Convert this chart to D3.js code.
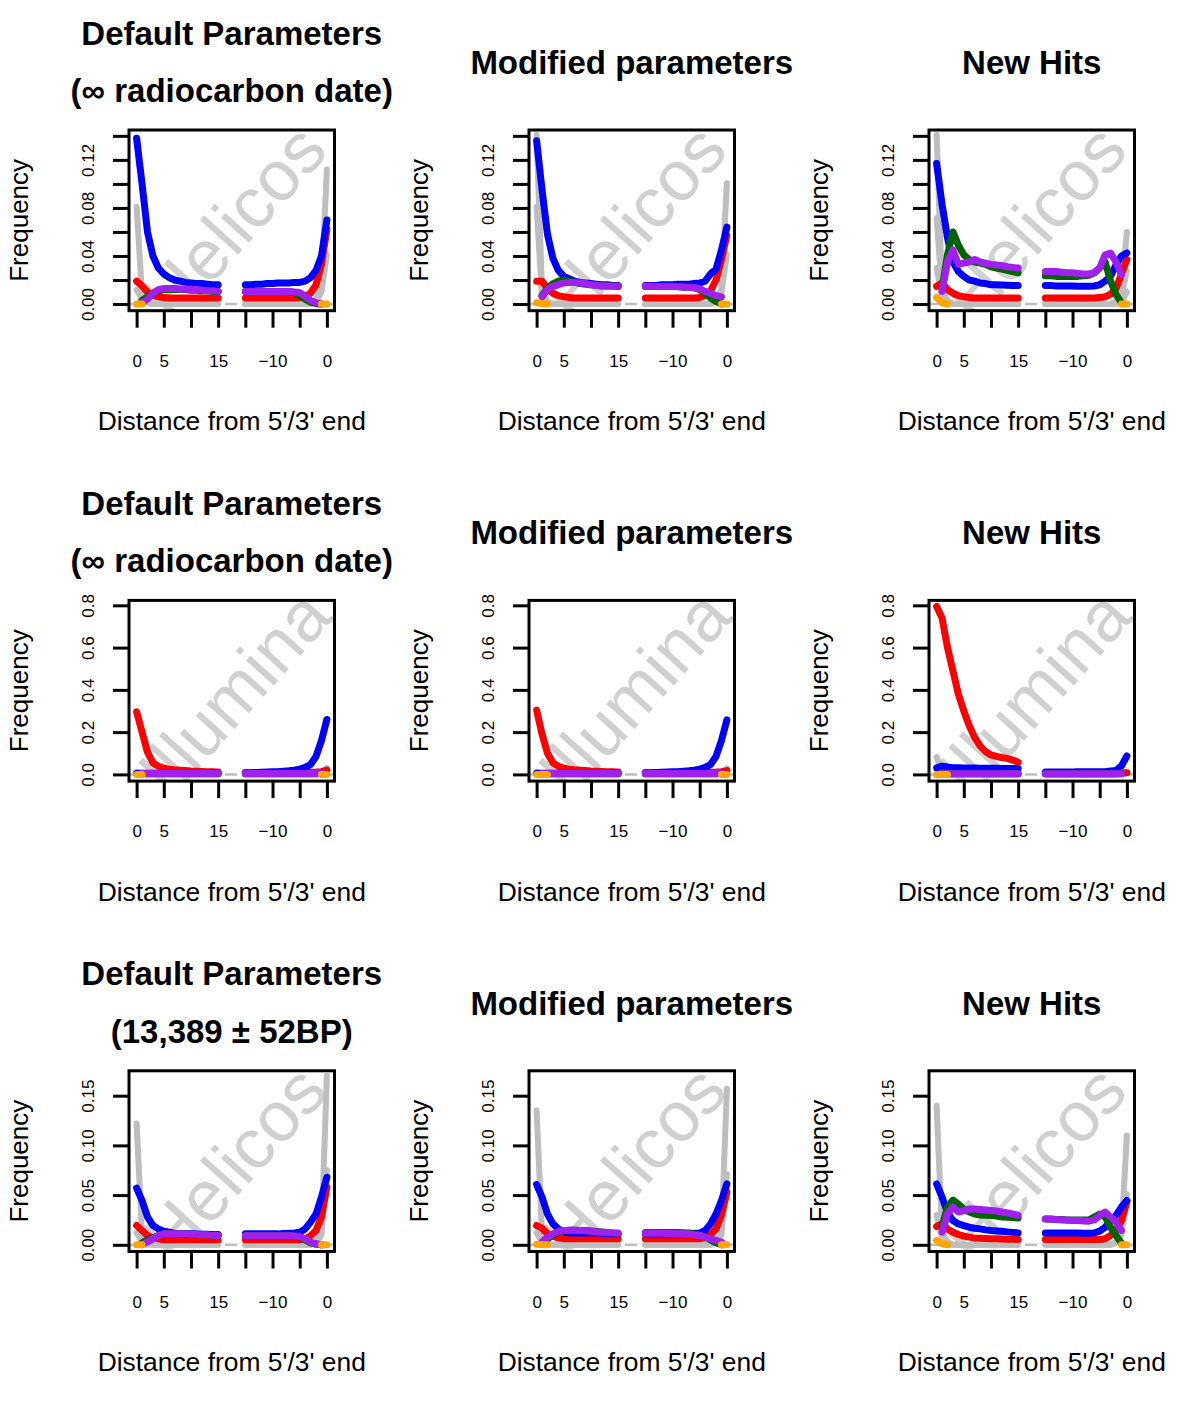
<!DOCTYPE html>
<html><head><meta charset="utf-8">
<script src="https://cdn.jsdelivr.net/npm/d3@7"></script>
<style>
body{margin:0;background:#fff}
text{font-family:"Liberation Sans", Arial, Helvetica, sans-serif}
</style>
</head><body>
<svg id="c" width="1200" height="1413"></svg>
<script>
const _ = null;
// x positions: first 16 values = distance from 5' end (0..15), last 16 = distance from 3' end (-15..0)
const pos5 = [0,1,2,3,4,5,6,7,8,9,10,11,12,13,14,15];
const pos3 = [-15,-14,-13,-12,-11,-10,-9,-8,-7,-6,-5,-4,-3,-2,-1,0];
const xTicks = [0,5,10,15,20,25,30,35];
const xTickLabels = ["0","5","","15","","\u221210","","0"];
const zeroLine = 0;

const yMax = [0.1393, 0.7917, 0.1683];
const yTicksR1 = [0,0.02,0.04,0.06,0.08,0.10,0.12,0.14];
const yLabelsR1 = ["0.00","","0.04","","0.08","","0.12",""];
const yTicksR2 = [0,0.2,0.4,0.6,0.8];
const yLabelsR2 = ["0.0","0.2","0.4","0.6","0.8"];
const yTicksR3 = [0,0.05,0.10,0.15];
const yLabelsR3 = ["0.00","0.05","0.10","0.15"];

const titlesDefault1 = ["Default Parameters","(\u221e radiocarbon date)"];
const titlesDefault3 = ["Default Parameters","(13,389 \u00b1 52BP)"];
const titlesModified = ["Modified parameters"];
const titlesNew = ["New Hits"];
const watermarks = ["Helicos","Illumina","Helicos"];
const xLabel = "Distance from 5'/3' end";
const yLabel = "Frequency";

// ---------- Row 1 (Helicos, infinite date) ----------
const p11_blue = [0.138,0.100,0.060,0.040,0.030,0.025,0.022,0.020,0.019,0.018,0.0175,0.017,0.017,0.0165,0.016,0.016,
  0.016,0.016,0.0165,0.0165,0.017,0.017,0.0175,0.0175,0.0175,0.018,0.018,0.019,0.022,0.028,0.040,0.070];
const p11_red = [0.019,0.015,0.010,0.007,0.006,0.0055,0.005,0.005,0.005,0.005,0.005,0.005,0.005,0.005,0.005,0.005,
  0.005,0.005,0.005,0.005,0.005,0.005,0.005,0.005,0.005,0.005,0.0055,0.006,0.009,0.016,0.033,0.062];
const p11_green = [_,0.003,0.006,0.009,0.011,0.012,0.012,0.012,0.012,0.012,0.0115,0.0115,0.011,0.011,0.0105,0.0105,
  0.0105,0.0105,0.0105,0.0105,0.0105,0.0105,0.0105,0.0105,0.0105,0.0095,0.007,0.004,0.0015,0.0003,0,_];
const p11_purple = [_,0.001,0.004,0.009,0.012,0.013,0.013,0.013,0.0125,0.0125,0.012,0.012,0.0115,0.011,0.011,0.0105,
  0.0105,0.0105,0.0105,0.0105,0.0105,0.0105,0.0105,0.0105,0.0105,0.010,0.0095,0.0065,0.003,0.001,0,_];
const p11_orange = [0,0,_,_,_,_,_,_,_,_,_,_,_,_,_,_, _,_,_,_,_,_,_,_,_,_,_,_,_,_,0,0];
const p11_gray1 = [0.081,0.008,0.002,0,0,0,0,0,0,0,0,0,0,0,0,0, 0,0,0,0,0,0,0,0,0,0,0,0,0,0.003,0.015,0.112];
const p11_gray2 = [0.012,0.004,0.001,0,0,0,0,0,0,0,0,0,0,0,0,0, 0,0,0,0,0,0,0,0,0,0,0,0,0,0.002,0.010,0.041];

const p12_blue = [0.136,0.095,0.058,0.038,0.028,0.023,0.021,0.019,0.018,0.0175,0.017,0.0165,0.016,0.016,0.0155,0.0155,
  0.0155,0.0155,0.0155,0.016,0.016,0.016,0.0165,0.0165,0.0165,0.017,0.0175,0.019,0.025,0.029,0.045,0.064];
const p12_red = [0.019,0.019,0.013,0.009,0.007,0.006,0.0055,0.005,0.005,0.005,0.005,0.005,0.005,0.005,0.005,0.005,
  0.005,0.005,0.005,0.005,0.005,0.005,0.005,0.005,0.005,0.005,0.0055,0.007,0.011,0.020,0.037,0.057];
const p12_green = [_,0.007,0.013,0.017,0.019,0.020,0.019,0.018,0.017,0.0165,0.016,0.0155,0.015,0.015,0.015,0.0145,
  0.0145,0.0145,0.0145,0.0145,0.0145,0.0145,0.0145,0.014,0.014,0.0135,0.012,0.009,0.005,0.002,0,_];
const p12_purple = [_,0.006,0.012,0.0147,0.016,0.0175,0.018,0.018,0.0175,0.017,0.016,0.0155,0.015,0.015,0.0148,0.0147,
  0.0147,0.0147,0.0146,0.0145,0.0145,0.0145,0.0144,0.0142,0.014,0.0135,0.0127,0.0105,0.009,0.007,0.006,_];
const p12_orange = [0.001,0.0005,0,_,_,_,_,_,_,_,_,_,_,_,_,_, _,_,_,_,_,_,_,_,_,_,_,_,_,_,0,0];
const p12_gray1 = [0.141,0.010,0.002,0,0,0,0,0,0,0,0,0,0,0,0,0, 0,0,0,0,0,0,0,0,0,0,0,0,0,0.003,0.012,0.1006];
const p12_gray2 = [0.081,0.006,0.001,0,0,0,0,0,0,0,0,0,0,0,0,0, 0,0,0,0,0,0,0,0,0,0,0,0,0,0.002,0.010,0.041];

const p13_blue = [0.117,0.083,0.055,0.035,0.027,0.023,0.020,0.019,0.0175,0.017,0.016,0.016,0.0158,0.0157,0.0155,0.0155,
  0.0155,0.0155,0.015,0.015,0.015,0.015,0.0148,0.0147,0.0147,0.015,0.016,0.019,0.023,0.0327,0.040,0.0425];
const p13_red = [0.0147,0.0175,0.012,0.009,0.007,0.006,0.0055,0.005,0.005,0.005,0.005,0.005,0.005,0.005,0.005,0.005,
  0.005,0.005,0.005,0.005,0.005,0.005,0.005,0.005,0.005,0.005,0.0055,0.006,0.008,0.013,0.025,0.037];
const p13_green = [_,0.013,0.041,0.060,0.049,0.041,0.037,0.035,0.034,0.033,0.031,0.030,0.029,0.028,0.027,0.026,
  0.0235,0.0235,0.023,0.023,0.023,0.023,0.023,0.0235,0.024,0.026,0.030,0.035,0.019,0.008,0.001,_];
const p13_purple = [_,0.0105,0.035,0.045,0.033,0.034,0.035,0.037,0.035,0.034,0.033,0.0325,0.032,0.031,0.0305,0.030,
  0.027,0.027,0.027,0.0265,0.026,0.026,0.0255,0.025,0.025,0.026,0.030,0.041,0.0424,0.035,0.0244,_];
const p13_orange = [0.0055,0.001,0,_,_,_,_,_,_,_,_,_,_,_,_,_, _,_,_,_,_,_,_,_,_,_,_,_,_,_,0,0];
const p13_gray1 = [0.141,0.012,0.003,0,0,0,0,0,0,0,0,0,0,0,0,0, 0,0,0,0,0,0,0,0,0,0,0,0,0,0.002,0.010,0.060];
const p13_gray2 = [0.0715,0.010,0.002,0,0,0,0,0,0,0,0,0,0,0,0,0, 0,0,0,0,0,0,0,0,0,0,0,0,0,0.001,0.008,0.027];
const p13_gray3 = [0.030,0.006,0.001,0,0,0,0,0,0,0,0,0,0,0,0,0, 0,0,0,0,0,0,0,0,0,0,0,0,0,0,0.002,0.010];

// ---------- Row 2 (Illumina, infinite date) ----------
const p21_red = [0.296,0.200,0.105,0.055,0.038,0.030,0.025,0.022,0.020,0.018,0.016,0.015,0.014,0.013,0.012,0.011,
  0.008,0.008,0.008,0.008,0.008,0.008,0.008,0.008,0.008,0.008,0.009,0.009,0.010,0.011,0.013,0.020];
const p21_blue = [0.005,0.005,0.005,0.005,0.005,0.005,0.005,0.005,0.005,0.005,0.005,0.005,0.005,0.005,0.005,0.005,
  0.008,0.008,0.009,0.010,0.011,0.012,0.013,0.015,0.017,0.020,0.025,0.033,0.047,0.085,0.160,0.260];
const p21_green = [_,0.003,0.003,0.003,0.003,0.003,0.003,0.003,0.003,0.003,0.003,0.003,0.003,0.003,0.003,0.003,
  0.003,0.003,0.003,0.003,0.003,0.003,0.003,0.003,0.003,0.003,0.003,0.003,0.003,0.003,0.003,_];
const p21_purple = [_,0.004,0.004,0.004,0.004,0.004,0.004,0.004,0.004,0.004,0.004,0.004,0.004,0.004,0.004,0.004,
  0.004,0.004,0.004,0.004,0.004,0.004,0.004,0.004,0.004,0.004,0.004,0.004,0.004,0.004,0.004,_];
const p21_orange = [0,0,_,_,_,_,_,_,_,_,_,_,_,_,_,_, _,_,_,_,_,_,_,_,_,_,_,_,_,_,0,0];
const p21_gray1 = [0.010,0.002,0,0,0,0,0,0,0,0,0,0,0,0,0,0, 0,0,0,0,0,0,0,0,0,0,0,0,0,0,0.006,0.030];

const p22_red = [0.304,0.190,0.100,0.055,0.038,0.030,0.025,0.022,0.020,0.018,0.016,0.015,0.014,0.013,0.012,0.011,
  0.008,0.008,0.008,0.008,0.008,0.008,0.008,0.008,0.008,0.008,0.009,0.009,0.010,0.011,0.013,0.018];
const p22_blue = [0.005,0.005,0.005,0.005,0.005,0.005,0.005,0.005,0.005,0.005,0.005,0.005,0.005,0.005,0.005,0.005,
  0.008,0.008,0.009,0.010,0.011,0.012,0.013,0.015,0.017,0.020,0.025,0.033,0.047,0.085,0.160,0.258];
const p22_green = [_,0.003,0.003,0.003,0.003,0.003,0.003,0.003,0.003,0.003,0.003,0.003,0.003,0.003,0.003,0.003,
  0.003,0.003,0.003,0.003,0.003,0.003,0.003,0.003,0.003,0.003,0.003,0.003,0.003,0.003,0.003,_];
const p22_purple = [_,0.004,0.004,0.004,0.004,0.004,0.004,0.004,0.004,0.004,0.004,0.004,0.004,0.004,0.004,0.004,
  0.004,0.004,0.004,0.004,0.004,0.004,0.004,0.004,0.004,0.004,0.004,0.004,0.004,0.004,0.004,_];
const p22_orange = [0,0,0,_,_,_,_,_,_,_,_,_,_,_,_,_, _,_,_,_,_,_,_,_,_,_,_,_,_,_,0,0];
const p22_gray1 = [0.012,0.002,0,0,0,0,0,0,0,0,0,0,0,0,0,0, 0,0,0,0,0,0,0,0,0,0,0,0,0,0,0.006,0.028];

const p23_red = [0.795,0.740,0.600,0.490,0.380,0.300,0.230,0.175,0.135,0.108,0.092,0.085,0.080,0.076,0.068,0.058,
  0.003,0.003,0.003,0.003,0.003,0.003,0.003,0.003,0.003,0.003,0.003,0.003,0.003,0.004,0.005,0.008];
const p23_blue = [0.031,0.039,0.035,0.032,0.031,0.030,0.030,0.030,0.029,0.029,0.029,0.029,0.028,0.028,0.028,0.028,
  0.011,0.011,0.011,0.011,0.011,0.011,0.012,0.012,0.012,0.012,0.013,0.013,0.016,0.019,0.040,0.087];
const p23_green = [_,0.003,0.003,0.003,0.003,0.003,0.003,0.003,0.003,0.003,0.003,0.003,0.003,0.003,0.003,0.003,
  0.003,0.003,0.003,0.003,0.003,0.003,0.003,0.003,0.003,0.003,0.003,0.003,0.003,0.003,0.003,_];
const p23_purple = [_,0.003,0.003,0.003,0.003,0.003,0.003,0.003,0.003,0.003,0.003,0.003,0.003,0.003,0.003,0.003,
  0.003,0.003,0.003,0.003,0.003,0.003,0.003,0.003,0.003,0.003,0.003,0.003,0.003,0.003,0.003,_];
const p23_orange = [0,0,0,_,_,_,_,_,_,_,_,_,_,_,_,_, _,_,_,_,_,_,_,_,_,_,_,_,_,_,_,_];
const p23_gray1 = [0.082,0.010,0.002,0,0,0,0,0,0,0,0,0,0,0,0,0, 0,0,0,0,0,0,0,0,0,0,0,0,0,0,0.004,0.012];

// ---------- Row 3 (Helicos, 13,389 BP) ----------
const p31_blue = [0.057,0.0445,0.028,0.0194,0.016,0.0137,0.0127,0.0117,0.0115,0.011,0.011,0.011,0.0107,0.0105,0.0104,0.0104,
  0.011,0.011,0.011,0.011,0.011,0.011,0.011,0.0115,0.0117,0.012,0.0127,0.016,0.0228,0.031,0.048,0.068];
const p31_red = [0.0194,0.0144,0.0094,0.007,0.006,0.005,0.005,0.005,0.005,0.005,0.005,0.005,0.005,0.005,0.005,0.005,
  0.005,0.005,0.005,0.005,0.005,0.005,0.005,0.005,0.005,0.005,0.005,0.006,0.009,0.0144,0.028,0.058];
const p31_green = [_,0.002,0.005,0.007,0.0095,0.011,0.011,0.011,0.011,0.011,0.0105,0.0105,0.010,0.010,0.0095,0.0095,
  0.009,0.009,0.009,0.009,0.009,0.009,0.009,0.009,0.009,0.0088,0.008,0.005,0.002,0.0005,0,_];
const p31_purple = [_,0.0003,0.003,0.006,0.0094,0.011,0.011,0.011,0.011,0.011,0.0105,0.0105,0.010,0.010,0.0095,0.0094,
  0.009,0.009,0.009,0.009,0.009,0.009,0.009,0.009,0.009,0.0088,0.0084,0.006,0.0027,0.001,0,_];
const p31_orange = [0,0,_,_,_,_,_,_,_,_,_,_,_,_,_,_, _,_,_,_,_,_,_,_,_,_,_,_,_,_,0,0];
const p31_gray1 = [0.122,0.010,0.002,0,0,0,0,0,0,0,0,0,0,0,0,0, 0,0,0,0,0,0,0,0,0,0,0,0,0,0.003,0.012,0.170];
const p31_gray2 = [0.012,0.003,0,0,0,0,0,0,0,0,0,0,0,0,0,0, 0,0,0,0,0,0,0,0,0,0,0,0,0,0.002,0.010,0.075];

const p32_blue = [0.0606,0.048,0.031,0.021,0.016,0.0127,0.012,0.012,0.012,0.012,0.012,0.012,0.0115,0.0115,0.011,0.011,
  0.011,0.011,0.011,0.011,0.011,0.011,0.011,0.0113,0.0115,0.0117,0.0117,0.0144,0.021,0.031,0.0445,0.0613];
const p32_red = [0.0194,0.0167,0.011,0.0084,0.007,0.006,0.006,0.006,0.006,0.006,0.006,0.006,0.006,0.006,0.006,0.006,
  0.006,0.006,0.006,0.006,0.006,0.006,0.006,0.006,0.006,0.006,0.006,0.007,0.010,0.016,0.030,0.053];
const p32_green = [_,0.002,0.006,0.010,0.0125,0.014,0.0147,0.0147,0.0145,0.0143,0.014,0.0135,0.013,0.0125,0.012,0.0117,
  0.0125,0.0125,0.0125,0.0125,0.0125,0.0125,0.0125,0.0122,0.012,0.011,0.010,0.008,0.005,0.002,0,_];
const p32_purple = [_,0.0027,0.0077,0.011,0.0134,0.0144,0.0147,0.0147,0.0145,0.0142,0.0137,0.013,0.0127,0.0123,0.012,0.0117,
  0.0117,0.0117,0.0116,0.0115,0.0114,0.0113,0.0112,0.0111,0.011,0.010,0.0094,0.0077,0.006,0.0044,0.0027,_];
const p32_orange = [0.0005,0,0,_,_,_,_,_,_,_,_,_,_,_,_,_, _,_,_,_,_,_,_,_,_,_,_,_,_,_,0,0];
const p32_gray1 = [0.135,0.010,0.002,0,0,0,0,0,0,0,0,0,0,0,0,0, 0,0,0,0,0,0,0,0,0,0,0,0,0,0.003,0.012,0.157];
const p32_gray2 = [0.012,0.003,0,0,0,0,0,0,0,0,0,0,0,0,0,0, 0,0,0,0,0,0,0,0,0,0,0,0,0,0.002,0.010,0.071];

const p33_blue = [0.0613,0.048,0.0328,0.0244,0.021,0.0194,0.0177,0.0167,0.016,0.015,0.0144,0.014,0.0137,0.013,0.0125,0.012,
  0.012,0.012,0.012,0.012,0.012,0.012,0.0118,0.0117,0.0117,0.012,0.0137,0.0177,0.0244,0.0295,0.038,0.0445];
const p33_red = [0.0184,0.021,0.016,0.0127,0.0104,0.0087,0.0077,0.0067,0.0065,0.0063,0.0061,0.006,0.0058,0.0056,0.0055,0.0054,
  0.0054,0.0054,0.0054,0.0054,0.0054,0.0054,0.0054,0.0054,0.0054,0.0054,0.0054,0.006,0.0094,0.0144,0.0244,0.043];
const p33_green = [_,0.018,0.038,0.045,0.041,0.036,0.033,0.031,0.030,0.0297,0.0295,0.029,0.028,0.0278,0.0275,0.027,
  0.026,0.026,0.0255,0.0255,0.025,0.025,0.025,0.025,0.025,0.028,0.031,0.028,0.0177,0.0094,0.0017,_];
const p33_purple = [_,0.0127,0.031,0.038,0.033,0.0345,0.036,0.036,0.0355,0.035,0.0345,0.034,0.033,0.032,0.031,0.0295,
  0.026,0.0258,0.0255,0.025,0.025,0.0245,0.0244,0.024,0.0238,0.025,0.0295,0.033,0.028,0.023,0.0144,_];
const p33_orange = [0.0044,0.001,0,_,_,_,_,_,_,_,_,_,_,_,_,_, _,_,_,_,_,_,_,_,_,_,_,_,_,_,0,0];
const p33_gray1 = [0.140,0.012,0.003,0,0,0,0,0,0,0,0,0,0,0,0,0, 0,0,0,0,0,0,0,0,0,0,0,0,0,0.003,0.012,0.110];
const p33_gray2 = [0.030,0.006,0.001,0,0,0,0,0,0,0,0,0,0,0,0,0, 0,0,0,0,0,0,0,0,0,0,0,0,0,0.002,0.010,0.051];

const colors = {gray:"#bebebe", red:"#ff0000", blue:"#0000ff", green:"#006400", purple:"#a020f0", orange:"#ffa500"};

const panels = [
  {row:0,col:0,title:titlesDefault1,gray:[p11_gray1,p11_gray2],red:p11_red,blue:p11_blue,green:p11_green,purple:p11_purple,orange:p11_orange},
  {row:0,col:1,title:titlesModified,gray:[p12_gray1,p12_gray2],red:p12_red,blue:p12_blue,green:p12_green,purple:p12_purple,orange:p12_orange},
  {row:0,col:2,title:titlesNew,gray:[p13_gray1,p13_gray2,p13_gray3],red:p13_red,blue:p13_blue,green:p13_green,purple:p13_purple,orange:p13_orange},
  {row:1,col:0,title:titlesDefault1,gray:[p21_gray1],red:p21_red,blue:p21_blue,green:p21_green,purple:p21_purple,orange:p21_orange},
  {row:1,col:1,title:titlesModified,gray:[p22_gray1],red:p22_red,blue:p22_blue,green:p22_green,purple:p22_purple,orange:p22_orange},
  {row:1,col:2,title:titlesNew,gray:[p23_gray1],red:p23_red,blue:p23_blue,green:p23_green,purple:p23_purple,orange:p23_orange},
  {row:2,col:0,title:titlesDefault3,gray:[p31_gray1,p31_gray2],red:p31_red,blue:p31_blue,green:p31_green,purple:p31_purple,orange:p31_orange},
  {row:2,col:1,title:titlesModified,gray:[p32_gray1,p32_gray2],red:p32_red,blue:p32_blue,green:p32_green,purple:p32_purple,orange:p32_orange},
  {row:2,col:2,title:titlesNew,gray:[p33_gray1,p33_gray2],red:p33_red,blue:p33_blue,green:p33_green,purple:p33_purple,orange:p33_orange}
];
const yTicksByRow = [yTicksR1,yTicksR2,yTicksR3];
const yLabelsByRow = [yLabelsR1,yLabelsR2,yLabelsR3];

// layout
const colLeft = 129, colStep = 400, boxW = 205.5;
const rowTop = 130, rowStep = 470.4, boxH = 180.7;

const svg = d3.select("#c");
const defs = svg.append("defs");
const xPlot = pos5.concat(pos3.map(p => p + 35));
const xMin = 0, xMax = 35;

function segs(vals){
  const pts = vals.map((v,i) => ({x:xPlot[i], v}));
  return [pts.slice(0,16), pts.slice(16)];
}

panels.forEach((p,k) => {
  const x0 = colLeft + p.col*colStep, y0 = rowTop + p.row*rowStep;
  const xr = xMax - xMin;
  const x = d3.scaleLinear().domain([xMin - 0.04*xr, xMax + 0.04*xr]).range([x0, x0+boxW]);
  const M = yMax[p.row];
  const y = d3.scaleLinear().domain([-0.04*M, 1.04*M]).range([y0+boxH, y0]);
  const cx = x0 + boxW/2;

  defs.append("clipPath").attr("id","clip"+k).append("rect")
    .attr("x",x0).attr("y",y0).attr("width",boxW).attr("height",boxH);
  const g = svg.append("g");
  const pg = g.append("g").attr("clip-path",`url(#clip${k})`);

  // watermark
  pg.append("text").text(watermarks[p.row])
    .attr("transform",`translate(${cx+2},${y0+boxH/2+2}) rotate(-48)`)
    .attr("text-anchor","middle").attr("dy","0.35em")
    .attr("font-size",71).attr("fill","#d0d0d0");

  // zero reference (dashed)
  pg.append("line").attr("x1",x0).attr("x2",x0+boxW).attr("y1",y(zeroLine)).attr("y2",y(zeroLine))
    .attr("stroke",colors.gray).attr("stroke-width",2.5).attr("stroke-dasharray","12,12");

  const line = d3.line().defined(d => d.v != null).x(d => x(d.x)).y(d => y(d.v));
  const drawSeries = (vals, color, w) => {
    segs(vals).forEach(s => {
      pg.append("path").attr("d", line(s)).attr("fill","none").attr("stroke",color)
        .attr("stroke-width",w).attr("stroke-linecap","round").attr("stroke-linejoin","round");
    });
  };
  p.gray.forEach(s => drawSeries(s, colors.gray, 6));
  drawSeries(p.red, colors.red, 7);
  drawSeries(p.blue, colors.blue, 7);
  drawSeries(p.green, colors.green, 7);
  drawSeries(p.purple, colors.purple, 7);
  drawSeries(p.orange, colors.orange, 7);

  // box
  g.append("rect").attr("x",x0).attr("y",y0).attr("width",boxW).attr("height",boxH)
    .attr("fill","none").attr("stroke","#000").attr("stroke-width",3);

  // x axis
  const xa = g.append("g").attr("transform",`translate(0,${y0+boxH})`)
    .call(d3.axisBottom(x).tickValues(xTicks).tickFormat((d,i) => xTickLabels[i]).tickSize(17).tickPadding(27));
  xa.select(".domain").remove();
  xa.selectAll(".tick line").attr("stroke","#000").attr("stroke-width",3);
  xa.selectAll(".tick text").attr("font-size",17).attr("font-family","Liberation Sans, Arial, sans-serif").attr("fill","#000");

  // y axis
  const ticks = yTicksByRow[p.row], labs = yLabelsByRow[p.row];
  const ya = g.append("g").attr("transform",`translate(${x0},0)`)
    .call(d3.axisLeft(y).tickValues(ticks).tickFormat((d,i) => labs[i]).tickSize(16));
  ya.select(".domain").remove();
  ya.selectAll(".tick line").attr("stroke","#000").attr("stroke-width",3);
  ya.selectAll(".tick text").attr("font-size",17).attr("font-family","Liberation Sans, Arial, sans-serif").attr("fill","#000")
    .attr("text-anchor","middle").attr("x",0).attr("y",-35).attr("dy",0).attr("transform","rotate(-90)");

  // axis titles
  g.append("text").text(xLabel).attr("x",cx).attr("y",y0+boxH+119.5)
    .attr("text-anchor","middle").attr("font-size",26.4);
  g.append("text").text(yLabel)
    .attr("transform",`translate(${x0-101},${y0+boxH/2}) rotate(-90)`)
    .attr("text-anchor","middle").attr("font-size",26);

  // main title
  const tl = p.title;
  const baselines = tl.length === 2 ? [y0-85.5, y0-28] : [y0-56];
  tl.forEach((t,i) => {
    g.append("text").text(t).attr("x",cx).attr("y",baselines[i])
      .attr("text-anchor","middle").attr("font-size",33).attr("font-weight","bold");
  });
});
</script>
</body></html>
